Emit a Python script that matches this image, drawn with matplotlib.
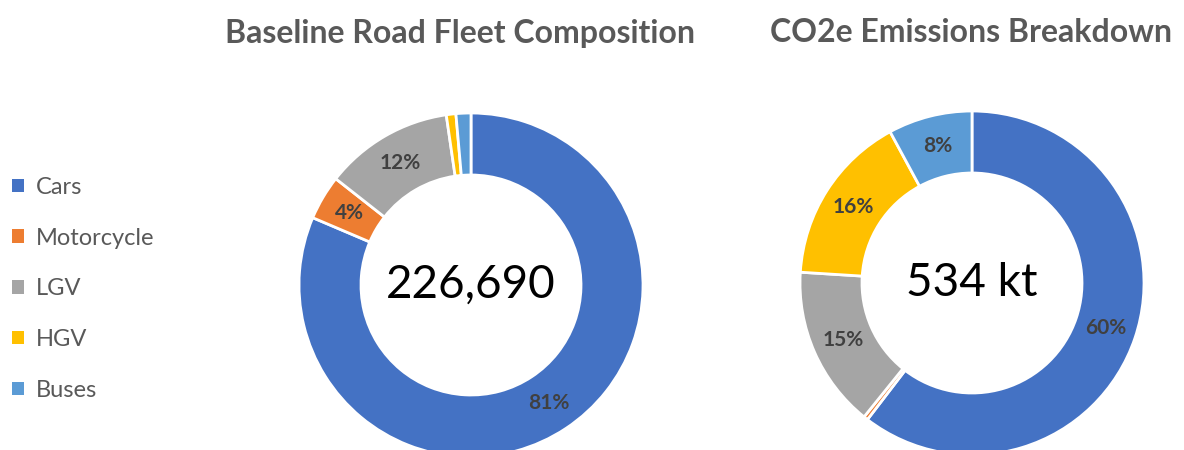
import matplotlib
matplotlib.use("Agg")
import matplotlib.pyplot as plt
from matplotlib.patches import Patch

plt.rcParams['font.family'] = ['Lato', 'DejaVu Sans']

# data
categories = ["Cars", "Motorcycle", "LGV", "HGV", "Buses"]
colors = ["#4472C4", "#ED7D31", "#A5A5A5", "#FFC000", "#5B9BD5"]
fleet_share = [81.4, 4.2, 12.1, 0.9, 1.4]
co2_share = [60.4, 0.4, 15.2, 16.1, 7.9]
fleet_total = "226,690"
co2_total = "534 kt"
titles = ["Baseline Road Fleet Composition", "CO2e Emissions Breakdown"]

W, H = 1184, 450
fig = plt.figure(figsize=(W / 100, H / 100), dpi=100)
ax = fig.add_axes([0, 0, 1, 1])


def pct_label(p):
    return "%.0f%%" % p if p >= 3 else ""


R = 172
ring = 62
centers = [(471, H - 285), (972, H - 283)]
title_x = [460, 971]
shares = [fleet_share, co2_share]
totals = [fleet_total, co2_total]

for (cx, cy), tx, vals, tot, ttl in zip(centers, title_x, shares, totals, titles):
    ax.pie(vals, colors=colors, startangle=90, counterclock=False,
           center=(cx, cy), radius=R, autopct=pct_label, pctdistance=0.82,
           wedgeprops=dict(width=ring, edgecolor="white", linewidth=2),
           textprops=dict(color="#404040", fontsize=15, fontweight="bold"),
           frame=True)
    ax.text(cx, cy, tot, ha="center", va="center", fontsize=33, color="black")
    ax.text(tx, H - 33, ttl, ha="center", va="center",
            fontsize=23, fontweight="bold", color="#595959")

ax.set_xlim(0, W)
ax.set_ylim(0, H)
ax.set_aspect("equal")
ax.axis("off")

handles = [Patch(facecolor=c, label=l) for c, l in zip(colors, categories)]
fig.legend(handles=handles, loc="upper left", bbox_to_anchor=(0.002, 0.628),
           frameon=False, fontsize=17, handlelength=0.5, handleheight=0.5,
           handletextpad=0.5, labelspacing=1.26, labelcolor="#595959",
           borderaxespad=0)

fig.savefig("out.png", dpi=100)
